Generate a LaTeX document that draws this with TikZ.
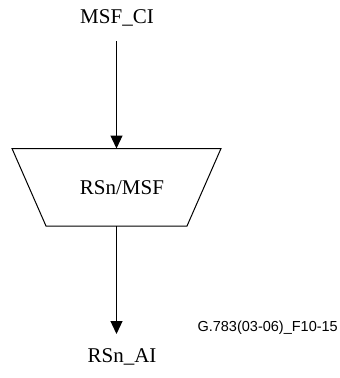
\documentclass[tikz,border=0pt]{standalone}
\usepackage{fontspec}
\setmainfont{Liberation Serif}
\newfontfamily\figfont{Liberation Sans}
\usetikzlibrary{arrows.meta}

\begin{document}
\begin{tikzpicture}[x=1pt,y=-1pt]
            \tikzset{sig/.style = {font=\fontsize{21}{25}\selectfont, inner sep=0pt}}
            \tikzset{fnbox/.style = {line width=1pt, line join=miter}}
            \tikzset{flow/.style = {line width=1.3pt, -{Triangle[width=12pt,length=13pt]}}}
            \useasboundingbox (0,0) rectangle (340,378);

            % trapezoid corners
            \coordinate (tl) at (12,148.5);
            \coordinate (tr) at (221,148.5);
            \coordinate (br) at (187,226);
            \coordinate (bl) at (46,226);
            \coordinate (rsin) at (116.5,148.5);
            \coordinate (rsout) at (116.5,226);
            \draw[fnbox] (tl) -- (tr) -- (br) -- (bl) -- cycle;

            \node[sig] (ci) at (117,18) {MSF\_CI};
            \node[sig] (rs) at (122,188) {RSn/MSF};
            \node[sig] (ai) at (122,357) {RSn\_AI};
            \node[font=\figfont\fontsize{14.5}{17}\selectfont, anchor=east, inner sep=0pt] (fig) at (338,328) {G.783(03-06)\_F10-15};

            \coordinate (top) at (116.5,41);
            \coordinate (tip) at (116.5,334);
            \draw[flow] (top) -- (rsin);
            \draw[flow] (rsout) -- (tip);

        \end{tikzpicture}
\end{document}
